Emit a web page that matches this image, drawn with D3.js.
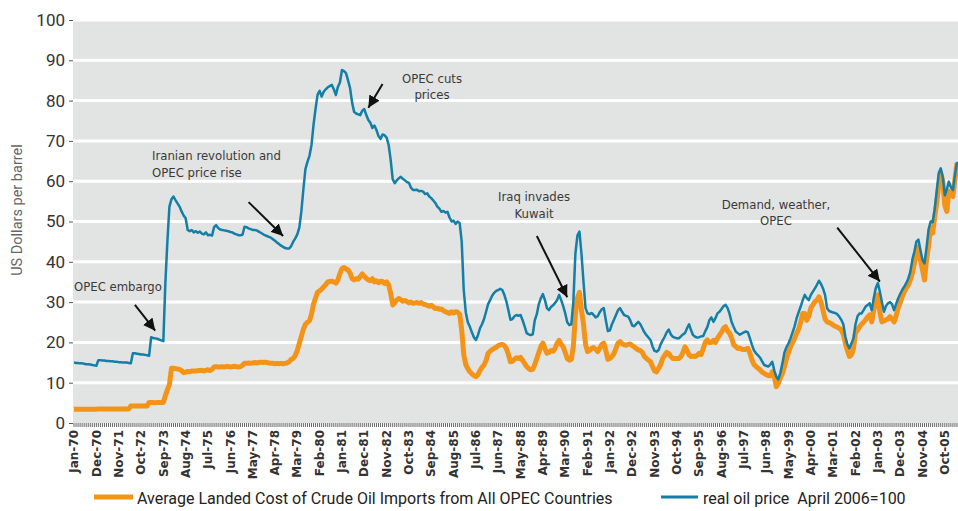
<!DOCTYPE html>
<html>
<head>
<meta charset="utf-8">
<script src="https://cdn.jsdelivr.net/npm/d3@7"></script>
<style>
  body { margin: 0; background: #fff; }
  text { font-family: Roboto, "DejaVu Sans", sans-serif; }
</style>
</head>
<body>
<div id="chart"></div>
<script>
// monthly data, Jan-1970 .. Apr-2006
var monthNames = ["Jan","Feb","Mar","Apr","May","Jun","Jul","Aug","Sep","Oct","Nov","Dec"];

var tickLabels = ["Jan-70","Dec-70","Nov-71","Oct-72","Sep-73","Aug-74","Jul-75","Jun-76","May-77","Apr-78",
  "Mar-79","Feb-80","Jan-81","Dec-81","Nov-82","Oct-83","Sep-84","Aug-85","Jul-86","Jun-87",
  "May-88","Apr-89","Mar-90","Feb-91","Jan-92","Dec-92","Nov-93","Oct-94","Sep-95","Aug-96",
  "Jul-97","Jun-98","May-99","Apr-00","Mar-01","Feb-02","Jan-03","Dec-03","Nov-04","Oct-05"];

var yTicks = [0,10,20,30,40,50,60,70,80,90,100];

// Average Landed Cost of Crude Oil Imports from All OPEC Countries
var landedCost = [
  3.4,3.4,3.4,3.4,3.4,3.4,3.4,3.4,3.4,3.4,3.4,3.4,            // 1970
  3.5,3.5,3.5,3.5,3.5,3.5,3.5,3.5,3.5,3.5,3.5,3.5,            // 1971
  3.5,3.5,3.5,3.5,4.2,4.2,4.2,4.2,4.2,4.2,4.2,4.2,            // 1972
  4.2,5.1,5.1,5.1,5.0,5.1,5.1,5.1,5.1,6.8,8.2,9.5,            // 1973
  13.6,13.6,13.5,13.4,13.3,13.0,12.5,12.6,12.8,12.7,12.9,12.9, // 1974
  12.9,13.0,13.0,13.1,12.9,13.1,13.2,13.0,13.3,13.9,14.0,13.9, // 1975
  13.9,14.0,13.9,14.0,14.0,13.9,14.0,14.1,14.0,13.9,14.0,14.3, // 1976
  14.8,14.8,14.9,14.8,14.9,15.0,14.9,15.0,15.1,15.0,15.1,15.0, // 1977
  14.9,14.8,14.8,14.7,14.8,14.7,14.8,14.7,14.8,14.9,15.2,15.8, // 1978
  16.0,16.8,18.0,19.8,21.5,23.3,24.5,25.0,25.4,27.0,29.5,31.0, // 1979
  32.5,32.8,33.2,33.8,34.3,35.0,35.1,35.2,35.0,34.7,35.5,37.1, // 1980
  38.3,38.6,38.2,38.0,37.2,35.8,35.5,35.8,35.7,36.3,37.0,36.4, // 1981
  35.9,35.5,35.3,35.8,35.0,35.3,34.8,35.2,35.1,34.6,35.0,34.3, // 1982
  32.2,29.3,29.8,30.5,30.9,30.6,30.2,30.4,30.1,29.8,30.0,29.7, // 1983
  29.8,29.9,29.7,29.9,29.5,29.4,29.2,29.0,29.2,28.8,28.4,28.5, // 1984
  28.2,28.3,27.9,27.6,27.4,27.2,27.6,27.3,27.6,27.5,27.0,23.1, // 1985
  17.0,14.5,13.5,12.7,12.2,11.8,11.5,12.0,13.0,13.8,14.4,15.5, // 1986
  17.3,17.8,18.2,18.5,18.8,19.2,19.4,19.5,19.2,18.5,17.0,15.2, // 1987
  15.3,15.8,16.2,16.0,16.3,15.5,14.8,14.0,13.5,13.2,13.3,14.5, // 1988
  16.0,17.5,19.0,19.8,18.5,17.3,17.5,18.0,17.8,18.5,19.8,20.5, // 1989
  19.5,18.9,17.5,16.0,15.6,15.8,19.0,27.0,31.0,32.4,28.0,24.5, // 1990
  19.5,17.7,18.0,18.5,18.7,18.3,17.7,18.5,19.5,19.8,18.0,15.8, // 1991
  16.0,16.5,17.2,18.5,19.8,20.2,19.7,19.4,19.3,19.5,19.6,19.2, // 1992
  18.9,18.5,18.1,18.0,17.5,16.5,16.0,15.6,15.2,14.0,12.9,12.7, // 1993
  13.6,14.5,16.0,16.8,17.5,17.2,16.5,16.0,16.0,16.0,16.0,16.5, // 1994
  17.5,18.9,18.0,16.9,16.5,16.6,16.5,16.8,17.3,17.0,18.5,20.0, // 1995
  20.6,20.0,20.0,20.5,20.0,21.0,21.8,22.5,23.5,23.9,22.8,22.3, // 1996
  21.0,19.4,19.0,18.5,18.6,18.3,18.2,18.3,18.5,17.3,15.6,14.5, // 1997
  14.0,13.6,13.2,12.6,12.3,12.0,11.8,11.7,12.7,11.5,9.0,9.8,   // 1998
  11.2,12.3,14.0,16.0,17.5,18.9,20.0,21.0,22.3,23.3,25.0,27.2, // 1999
  27.2,25.5,26.5,28.5,29.3,30.1,30.5,31.3,30.0,28.0,25.8,25.1, // 2000
  24.9,24.7,24.3,24.0,23.8,23.5,23.1,22.0,19.8,18.0,16.5,16.9, // 2001
  18.5,22.3,23.0,23.9,24.5,25.0,25.6,26.3,26.8,25.1,28.0,30.5, // 2002
  31.8,27.5,25.1,25.3,25.6,25.8,26.4,25.8,25.1,26.5,28.5,29.8, // 2003
  31.3,32.5,33.5,34.2,35.5,37.1,39.5,42.1,43.7,40.4,38.0,35.5, // 2004
  40.5,44.0,48.5,47.1,51.0,54.5,59.0,62.0,60.0,54.0,52.5,57.5, // 2005
  57.0,56.2,60.5,64.5                                          // 2006
];

// real oil price April 2006=100
var realPrice = [
  15.0,14.9,14.9,14.8,14.8,14.7,14.6,14.6,14.5,14.4,14.3,14.2, // 1970
  15.6,15.6,15.5,15.5,15.4,15.4,15.3,15.3,15.2,15.2,15.1,15.1, // 1971
  15.0,15.0,15.0,14.9,14.8,17.3,17.3,17.2,17.1,17.0,17.0,16.9, // 1972
  16.8,16.7,21.3,21.1,21.0,20.9,20.7,20.5,20.3,34.7,45.0,53.7, // 1973
  55.5,56.2,55.3,54.5,53.7,52.5,51.5,50.8,47.9,47.6,47.9,47.3, // 1974
  47.6,47.2,47.5,47.0,46.8,47.3,46.6,46.7,46.5,48.6,49.1,48.4, // 1975
  48.0,47.9,47.8,47.7,47.6,47.4,47.3,47.0,46.8,46.6,46.6,46.7, // 1976
  48.7,48.6,48.3,48.1,47.9,47.9,47.8,47.5,47.2,46.9,46.6,46.4, // 1977
  46.2,46.0,45.6,45.2,44.8,44.4,44.0,43.7,43.4,43.3,43.3,43.9, // 1978
  45.0,45.8,46.8,48.5,52.5,58.0,63.0,64.8,66.3,69.0,74.0,78.0, // 1979
  81.5,82.4,81.0,82.2,82.8,83.3,83.6,83.9,82.8,81.4,83.4,84.5, // 1980
  87.6,87.3,86.8,85.0,83.1,79.5,77.2,76.8,76.6,76.4,77.5,77.9, // 1981
  76.4,75.2,74.5,73.2,73.8,72.7,71.2,70.5,71.6,71.4,70.8,69.0, // 1982
  65.3,60.5,59.5,60.2,60.7,61.1,60.6,60.2,59.8,59.6,58.4,57.8, // 1983
  57.8,57.9,57.5,57.6,57.4,56.8,57.0,56.2,55.8,55.2,54.6,53.7, // 1984
  53.2,52.4,52.6,52.2,52.4,51.0,50.0,50.2,49.4,50.0,49.6,45.0, // 1985
  33.0,27.5,25.0,23.9,22.5,21.3,20.6,21.8,23.5,24.5,25.8,27.6, // 1986
  29.5,30.5,31.6,32.3,32.8,33.0,33.3,33.0,31.8,30.2,28.0,25.6, // 1987
  25.8,26.5,26.8,26.6,26.8,25.5,24.0,22.3,22.0,21.8,22.0,25.5, // 1988
  27.0,29.5,31.0,32.0,30.5,28.5,28.0,28.8,29.2,29.8,30.5,31.8, // 1989
  30.5,29.0,27.2,25.0,24.3,24.5,30.0,42.0,46.5,47.5,42.0,35.0, // 1990
  28.5,27.2,27.0,27.3,26.8,26.2,26.5,27.5,28.2,28.5,25.5,22.8, // 1991
  23.0,24.5,25.6,26.8,28.0,28.5,27.6,26.8,26.6,26.4,25.5,24.2, // 1992
  24.0,24.6,25.1,24.5,23.5,22.5,21.8,21.2,20.6,19.0,17.9,17.7, // 1993
  18.1,19.5,20.5,21.4,22.5,23.2,22.0,21.4,21.2,21.0,21.0,21.5, // 1994
  22.0,22.3,23.5,24.5,23.0,21.8,21.4,21.2,21.3,21.5,21.6,22.8, // 1995
  23.8,25.5,26.2,25.1,26.0,27.2,27.6,28.3,29.0,29.3,28.5,27.0, // 1996
  25.0,23.8,22.7,22.3,21.9,22.2,22.5,22.7,22.5,21.0,19.4,18.0, // 1997
  17.3,16.8,16.2,15.3,14.4,14.2,14.0,14.5,15.2,13.0,11.5,10.8, // 1998
  12.5,14.8,17.5,18.8,19.8,21.0,22.5,24.0,26.0,27.5,28.9,30.5, // 1999
  31.8,31.0,30.5,31.8,32.6,33.4,34.3,35.3,34.5,33.4,31.8,28.5, // 2000
  27.8,27.6,27.4,27.3,27.0,26.4,25.6,24.5,21.4,19.5,18.5,19.8, // 2001
  21.0,24.5,26.5,27.2,27.2,28.0,28.9,29.3,29.7,28.0,31.0,33.5, // 2002
  34.7,32.6,30.0,27.6,29.0,29.7,30.0,29.5,28.0,29.5,30.9,32.0, // 2003
  33.0,33.8,34.7,35.8,37.5,40.5,42.5,45.0,45.5,42.9,40.5,39.6, // 2004
  43.5,48.0,50.0,49.8,53.0,57.5,62.0,63.2,61.0,56.5,58.0,59.9, // 2005
  58.5,57.8,61.5,64.8                                          // 2006
];

// category names built from the month index
var categories = realPrice.map(function (d, i) {
  var yr = (70 + Math.floor(i / 12)) % 100;
  return monthNames[i % 12] + "-" + (yr < 10 ? "0" + yr : yr);
});

// annotations: tip / tail in data space (month index, value)
var notes = [
  { lines: ["OPEC embargo"], tx: 74, ty: 291, anchor: "start", tail: [30, 29.3], tip: [40, 22.9] },
  { lines: ["Iranian revolution and", "OPEC price rise"], tx: 152, ty: 160, anchor: "start", tail: [86, 54.8], tip: [103.4, 46.4] },
  { lines: ["OPEC cuts", "prices"], tx: 432, ty: 82.5, anchor: "middle", tail: [152, 84.1], tip: [144.7, 78.2] },
  { lines: ["Iraq invades", "Kuwait"], tx: 534, ty: 201, anchor: "middle", tail: [228, 46.4], tip: [242.7, 31.2] },
  { lines: ["Demand, weather,", "OPEC"], tx: 776, ty: 208.5, anchor: "middle", tail: [375.7, 48.5], tip: [396.7, 35.1] }
];

var width = 958, height = 511;
var plotLeft = 73, plotRight = 958, plotTop = 20, plotBottom = 423;

var svg = d3.select("#chart").append("svg")
  .attr("width", width)
  .attr("height", height);

var x = d3.scaleBand().domain(categories).range([plotLeft, plotRight]);
var y = d3.scaleLinear().domain([0, 100]).range([plotBottom, plotTop]);
var xc = function (i) { return x(categories[i]) + x.bandwidth() / 2; };

// plot background
svg.append("rect")
  .attr("x", plotLeft).attr("y", plotTop)
  .attr("width", plotRight - plotLeft).attr("height", plotBottom - plotTop)
  .attr("fill", "#e2e3e3");

// gridlines
svg.append("g")
  .selectAll("line")
  .data(yTicks.filter(d => d > 0))
  .join("line")
  .attr("x1", plotLeft).attr("x2", plotRight)
  .attr("y1", d => y(d)).attr("y2", d => y(d))
  .attr("stroke", "#fff")
  .attr("stroke-width", 3);

// y axis
var yAxis = svg.append("g")
  .attr("transform", "translate(" + plotLeft + ",0)")
  .call(d3.axisLeft(y).tickValues(yTicks).tickSize(4).tickPadding(4));
yAxis.select(".domain").remove();
yAxis.selectAll("line").attr("stroke", "#555");
yAxis.selectAll("text")
  .attr("fill", "#333")
  .style("font-size", "17px")
  .style("font-family", "Roboto, sans-serif");

svg.append("text")
  .attr("transform", "translate(22,210) rotate(-90)")
  .attr("text-anchor", "middle")
  .attr("fill", "#666")
  .style("font-size", "14.5px")
  .text("US Dollars per barrel");

// x axis: one tick per month, label every 11th
var xAxis = svg.append("g")
  .attr("transform", "translate(0," + plotBottom + ")")
  .call(d3.axisBottom(x).tickSize(4).tickFormat(d => tickLabels.indexOf(d) >= 0 ? d : ""));
xAxis.select(".domain").remove();
xAxis.selectAll("line").attr("stroke", "#666").attr("stroke-width", 1);
xAxis.selectAll("text")
  .attr("transform", "rotate(-90)")
  .attr("text-anchor", "end")
  .attr("x", -7)
  .attr("y", 0)
  .attr("dy", "0.35em")
  .attr("fill", "#333")
  .style("font-size", "12px")
  .style("font-weight", "bold")
  .style("font-family", "'DejaVu Sans', sans-serif");

// lines
var line = d3.line()
  .x((d, i) => xc(i))
  .y(d => y(d));

svg.append("path")
  .datum(landedCost)
  .attr("d", line)
  .attr("fill", "none")
  .attr("stroke", "#f39419")
  .attr("stroke-width", 5)
  .attr("stroke-linejoin", "round");

svg.append("path")
  .datum(realPrice)
  .attr("d", line)
  .attr("fill", "none")
  .attr("stroke", "#137fa7")
  .attr("stroke-width", 2.5)
  .attr("stroke-linejoin", "round");

// annotations
svg.append("defs").append("marker")
  .attr("id", "arrow")
  .attr("viewBox", "0 0 10 10")
  .attr("refX", 10).attr("refY", 5)
  .attr("markerWidth", 6).attr("markerHeight", 6)
  .attr("markerUnits", "strokeWidth")
  .attr("orient", "auto")
  .append("path")
  .attr("d", "M0,0L10,5L0,10z")
  .attr("fill", "#111");

var note = svg.append("g")
  .selectAll("g")
  .data(notes)
  .join("g");

note.append("line")
  .attr("x1", d => xc(Math.round(d.tail[0])))
  .attr("y1", d => y(d.tail[1]))
  .attr("x2", d => xc(Math.round(d.tip[0])))
  .attr("y2", d => y(d.tip[1]))
  .attr("stroke", "#111")
  .attr("stroke-width", 2)
  .attr("marker-end", "url(#arrow)");

note.each(function (d) {
  var t = d3.select(this).append("text")
    .attr("text-anchor", d.anchor)
    .attr("fill", "#3a3a3a")
    .style("font-size", "13px")
    .style("font-family", "'Liberation Sans Narrow', 'DejaVu Sans Condensed', sans-serif");
  d.lines.forEach(function (s, k) {
    t.append("tspan").attr("x", d.tx).attr("y", d.ty + k * 16.7).text(s);
  });
});

// legend
var legend = svg.append("g");
legend.append("line")
  .attr("x1", 94).attr("x2", 133).attr("y1", 497).attr("y2", 497)
  .attr("stroke", "#f39419").attr("stroke-width", 5);
legend.append("text")
  .attr("x", 137).attr("y", 504)
  .attr("fill", "#222")
  .style("font-size", "16px")
  .text("Average Landed Cost of Crude Oil Imports from All OPEC Countries");
legend.append("line")
  .attr("x1", 661).attr("x2", 698).attr("y1", 497).attr("y2", 497)
  .attr("stroke", "#137fa7").attr("stroke-width", 3);
legend.append("text")
  .attr("x", 703).attr("y", 504)
  .attr("fill", "#222")
  .attr("xml:space", "preserve")
  .style("white-space", "pre")
  .style("font-size", "16px")
  .text("real oil price  April 2006=100");
</script>
</body>
</html>
